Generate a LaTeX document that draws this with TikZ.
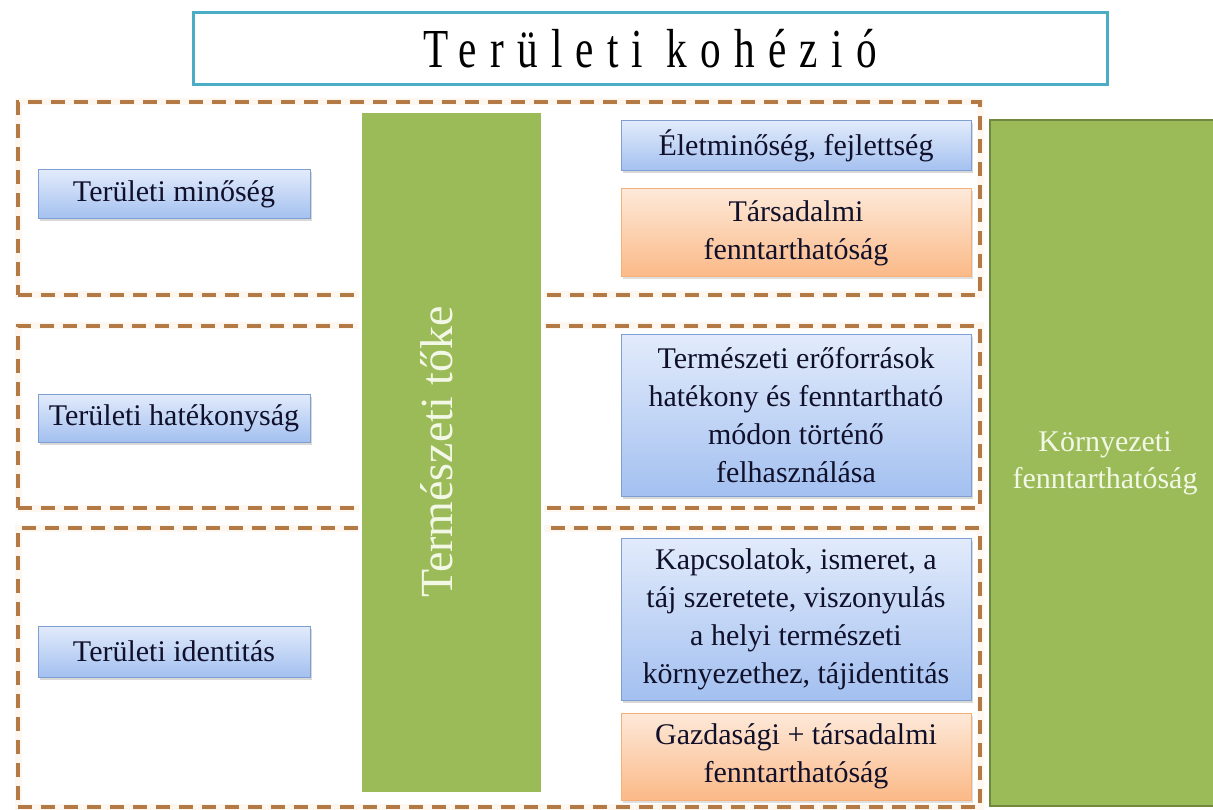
\documentclass[tikz,border=0pt]{standalone}
\usepackage{graphicx}
\usepackage{fontspec}
\setmainfont{Liberation Serif}
\usetikzlibrary{shadows}
\definecolor{dashbrown}{HTML}{B47A45}
\definecolor{glowcol}{HTML}{FEF7F0}
\definecolor{titleEdge}{HTML}{4BACC6}
\definecolor{barGreen}{HTML}{9BBB59}
\definecolor{barEdge}{HTML}{71893F}
\definecolor{lightText}{HTML}{F3F8E6}
\definecolor{blueTop}{HTML}{E2EBFB}
\definecolor{blueBot}{HTML}{A3C0F0}
\definecolor{blueEdge}{HTML}{7F9FD2}
\definecolor{orTop}{HTML}{FDE9D9}
\definecolor{orBot}{HTML}{FBB987}
\definecolor{orEdge}{HTML}{F5B07A}
\definecolor{inkText}{HTML}{10102A}
\tikzset{
  box/.style={rectangle, inner sep=0pt, outer sep=0pt, align=center,
    font=\fontsize{30}{38}\selectfont, text=inkText},
  bluebox/.style={box, draw=blueEdge, line width=1pt, top color=blueTop, bottom color=blueBot,
    drop shadow={shadow xshift=1.5pt, shadow yshift=-2.5pt, opacity=0.3}},
  orangebox/.style={box, draw=orEdge, line width=1pt, top color=orTop, bottom color=orBot,
    drop shadow={shadow xshift=1.5pt, shadow yshift=-2.5pt, opacity=0.25}},
  groupbox/.style={rectangle, inner sep=0pt, outer sep=0pt, minimum width=962pt,
    draw=dashbrown, line width=3.3pt, dash pattern=on 14pt off 9pt,
    preaction={draw=glowcol, line width=7pt, solid}},
  greenbar/.style={rectangle, inner sep=0pt, outer sep=0pt, fill=barGreen, draw=white, line width=3pt,
    drop shadow={shadow xshift=1pt, shadow yshift=-2pt, opacity=0.2}},
  greenside/.style={rectangle, inner sep=0pt, outer sep=0pt, fill=barGreen, draw=barEdge, line width=2.5pt,
    align=center, text=lightText, font=\fontsize{30}{37}\selectfont},
}
\begin{document}
\begin{tikzpicture}[x=1pt, y=-1pt]
\useasboundingbox (0,0) rectangle (1213,810);
\fill[white] (0,0) rectangle (1213,810);
% title
\node[draw=titleEdge, line width=3pt, inner sep=0pt, minimum width=914pt, minimum height=72pt] (title) at (650,49)
  {\scalebox{0.75}[1]{\fontsize{55}{55}\selectfont\addfontfeatures{LetterSpace=32}Területi kohézió}};
% dashed groups
\node[groupbox, minimum height=193pt] (g1) at (499,198.5) {};
\node[groupbox, minimum height=182pt] (g2) at (499,417) {};
\node[groupbox, minimum height=279pt] (g3) at (499,667.5) {};
% left boxes
\node[bluebox, minimum width=272pt, minimum height=49pt] (m1) at (174,194.5) {Területi minőség};
\node[bluebox, minimum width=272pt, minimum height=48pt] (m2) at (174,418) {Területi hatékonyság};
\node[bluebox, minimum width=272pt, minimum height=51pt] (m3) at (174,651.5) {Területi identitás};
% right boxes
\node[bluebox, minimum width=350pt, minimum height=50pt] (r1) at (796,146) {Életminőség, fejlettség};
\node[orangebox, minimum width=350pt, minimum height=88pt] (r2) at (796,233) {Társadalmi\\fenntarthatóság};
\node[bluebox, minimum width=350pt, minimum height=161pt] (r3) at (796,415.5)
  {Természeti erőforrások\\hatékony és fenntartható\\módon történő\\felhasználása};
\node[bluebox, minimum width=350pt, minimum height=162pt] (r4) at (796,619)
  {Kapcsolatok, ismeret, a\\táj szeretete, viszonyulás\\a helyi természeti\\környezethez, tájidentitás};
\node[orangebox, minimum width=350pt, minimum height=87pt] (r5) at (796,756.5) {Gazdasági + társadalmi\\fenntarthatóság};
% green vertical bar
\node[greenbar, minimum width=182pt, minimum height=681pt] (bar) at (451,452.5) {};
\node[rotate=90, inner sep=0pt, text=lightText, font=\fontsize{46}{46}\selectfont] (tt) at (437,452) {Természeti tőke};
% right green box
\node[greenside, minimum width=230pt, minimum height=686pt] (env) at (1105,463) {Környezeti\\fenntarthatóság};
\end{tikzpicture}
\end{document}
